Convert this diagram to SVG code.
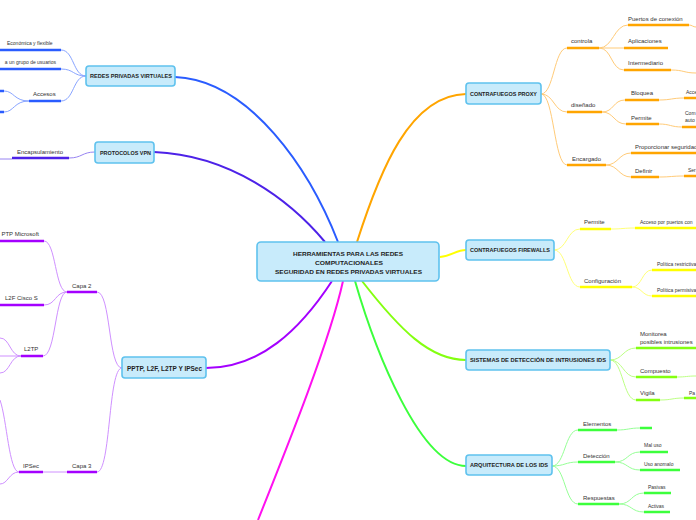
<svg xmlns="http://www.w3.org/2000/svg" width="696" height="520" viewBox="0 0 696 520">
<style>
.nd rect{fill:#c8ebfb;stroke:#5fc2ee;stroke-width:1.6}
.nt{font-family:"Liberation Sans",Arial,sans-serif;font-size:6.2px;font-weight:bold;fill:#1e1e1e;text-anchor:middle}
.st{font-family:"Liberation Sans",Arial,sans-serif;font-size:6px;fill:#333}
.sm{font-size:5px}
.main{fill:none;stroke-width:2}
.th{fill:none;stroke-width:1}
.ul{fill:none;stroke-width:2.4}
.b1{stroke:#2a5cff}.b2{stroke:#88a4ff}
.v1{stroke:#4d22e8}.v2{stroke:#9884f2}
.p1{stroke:#a400ff}.p2{stroke:#cf90ff}
.m1{stroke:#ff10f0}
.o1{stroke:#ffa500}.o2{stroke:#ffcb78}
.y1{stroke:#ffff00}.y2{stroke:#ffff78}
.l1{stroke:#84ff10}.l2{stroke:#bdff84}
.g1{stroke:#3cff3c}.g2{stroke:#96ff96}
</style>
<g id="connectors">
<path class="main b1" d="M175,77 C250,80 310,170 338,242"/>
<path class="main v1" d="M154,152 C230,155 290,200 325,242"/>
<path class="main o1" d="M357,242 C380,170 410,95 466,94"/>
<path class="main y1" d="M440,257 C452,256 456,250 466,250"/>
<path class="main l1" d="M362,281 C400,330 430,360 466,360"/>
<path class="main g1" d="M355,281 C375,350 420,466 466,466"/>
<path class="main p1" d="M332,281 C300,330 260,368 206,368"/>
<path class="main m1" d="M343,281 C330,340 290,440 258,520"/>
<!-- REDES -->
<path class="th b2" d="M86,76 C73,76 74,50 61,50 M86,76 C73,76 74,69 61,69 M86,76 C73,76 74,101 61,101 M29,101 C14,101 14,91 4,91 M29,101 C14,101 14,112 4,112"/>
<path class="ul b1" d="M0,50 H61 M0,69 H61 M29,101 H61 M0,91 H4 M0,112 H4"/>
<!-- VPN -->
<path class="th v2" d="M95,152 C82,152 82,158 69,158 M0,159 H12"/>
<path class="ul v1" d="M12,158 H69"/>
<!-- PPTP -->
<path class="th p2" d="M122,368 C108,368 111,292 97,292 M122,368 C108,368 111,472 97,472 M67,292 C55,292 56,241 44,241 M67,292 C55,292 56,305 44,305 M67,292 C55,292 56,356 43,356 M21,356 C10,356 10,338 0,338 M21,356 H0 M21,356 C10,356 10,373 0,373 M43,472 H67 M19,472 C9,472 7,420 0,400 M19,472 C9,472 8,484 0,484"/>
<path class="ul p1" d="M67,292 H97 M0,241 H44 M0,305 H44 M21,356 H43 M67,472 H97 M19,472 H43"/>
<!-- PROXY -->
<path class="th o2" d="M541,94 C554,94 554,48 567,48 M541,94 C554,94 554,112 567,112 M541,94 C554,94 554,165 567,165 M599,48 C613,48 614,25 628,25 M599,48 H624 M599,48 C612,48 611,70 624,70 M689,25 C692,25 693,27 696,27 M671,70 C684,70 684,73 696,73 M602,112 C614,112 613,100 625,100 M602,112 C614,112 614,124 626,124 M659,100 C671,100 672,98 684,98 M659,124 C670,124 671,127 682,127 M606,165 C618,165 619,153 631,153 M606,165 C618,165 619,177 631,177 M659,177 C671,177 672,176 684,176"/>
<path class="ul o1" d="M567,48 H599 M628,25 H689 M624,48 H668 M624,70 H671 M567,112 H602 M625,100 H659 M684,98 H696 M626,124 H659 M682,127 H696 M567,165 H606 M631,153 H696 M631,177 H659 M684,176 H696"/>
<!-- FIREWALLS -->
<path class="th y2" d="M554,250 C567,250 567,229 580,229 M554,250 C567,250 567,287 580,287 M611,229 C623,229 623,228 635,228 M632,287 C642,287 642,270 652,270 M632,287 C642,287 642,296 652,296"/>
<path class="ul y1" d="M580,229 H611 M635,228 H696 M580,287 H632 M652,270 H696 M652,296 H696"/>
<!-- SISTEMAS -->
<path class="th l2" d="M610,360 C623,360 623,348 636,348 M610,360 C623,360 623,377 636,377 M610,360 C623,360 623,400 636,400 M677,377 C686,377 687,376 696,376 M660,400 C672,400 672,398 684,398"/>
<path class="ul l1" d="M636,348 H696 M636,377 H677 M636,400 H660 M684,398 H696"/>
<!-- ARQUITECTURA -->
<path class="th g2" d="M552,466 C565,466 565,430 578,430 M552,466 C565,466 565,462 578,462 M552,466 C565,466 565,504 578,504 M617,430 C628,430 629,428 640,428 M615,462 C628,462 627,452 640,452 M615,462 C628,462 627,470 640,470 M619,504 C632,504 631,493 644,493 M619,504 C632,504 631,512 644,512"/>
<path class="ul g1" d="M578,430 H617 M640,428 H652 M578,462 H615 M640,452 H668 M640,470 H680 M578,504 H619 M644,493 H671 M644,512 H670"/>
</g>
<g id="n-center" class="nd">
<rect x="257" y="242" width="182" height="39" rx="4"/>
<text class="nt" x="348" y="255.5" textLength="110" lengthAdjust="spacingAndGlyphs">HERRAMIENTAS PARA LAS REDES</text>
<text class="nt" x="349" y="264.5" textLength="68" lengthAdjust="spacingAndGlyphs">COMPUTACIONALES</text>
<text class="nt" x="348.5" y="274" textLength="147" lengthAdjust="spacingAndGlyphs">SEGURIDAD EN REDES PRIVADAS VIRTUALES</text>
</g>
<g id="n-redes" class="nd">
<rect x="86" y="66" width="89" height="20" rx="3"/>
<text class="nt" x="131" y="78.2" textLength="82" lengthAdjust="spacingAndGlyphs">REDES PRIVADAS VIRTUALES</text>
</g>
<g id="n-vpn" class="nd">
<rect x="95" y="142" width="59" height="21" rx="3"/>
<text class="nt" x="125.5" y="154.5" textLength="51" lengthAdjust="spacingAndGlyphs">PROTOCOLOS VPN</text>
</g>
<g id="n-pptp" class="nd">
<rect x="122" y="357" width="84" height="21" rx="3"/>
<text class="nt" x="164.5" y="370.5" style="font-size:7px" textLength="75" lengthAdjust="spacingAndGlyphs">PPTP, L2F, L2TP Y IPSec</text>
</g>
<g id="n-proxy" class="nd">
<rect x="466" y="83" width="75" height="21" rx="3"/>
<text class="nt" x="503.5" y="95.7" textLength="67" lengthAdjust="spacingAndGlyphs">CONTRAFUEGOS PROXY</text>
</g>
<g id="n-firewalls" class="nd">
<rect x="466" y="240" width="88" height="20" rx="3"/>
<text class="nt" x="510" y="252.2" textLength="80" lengthAdjust="spacingAndGlyphs">CONTRAFUEGOS FIREWALLS</text>
</g>
<g id="n-ids" class="nd">
<rect x="466" y="350" width="144" height="20" rx="3"/>
<text class="nt" x="538" y="362.2" textLength="136" lengthAdjust="spacingAndGlyphs">SISTEMAS DE DETECCIÓN DE INTRUSIONES IDS</text>
</g>
<g id="n-arq" class="nd">
<rect x="466" y="455" width="86" height="20" rx="3"/>
<text class="nt" x="509" y="467.2" textLength="78" lengthAdjust="spacingAndGlyphs">ARQUITECTURA DE LOS IDS</text>
</g>
<g id="labels">
<text class="st sm" x="7" y="45">Económica y flexible</text>
<text class="st sm" x="56" y="64" text-anchor="end">a un grupo de usuarios</text>
<text class="st" x="33" y="95.5">Accesos</text>
<text class="st" x="17" y="154">Encapsulamiento</text>
<text class="st" x="72" y="287.5">Capa 2</text>
<text class="st" x="39" y="236" text-anchor="end">PTP Microsoft</text>
<text class="st" x="5" y="300">L2F Cisco S</text>
<text class="st" x="24" y="350.5">L2TP</text>
<text class="st" x="72" y="467.5">Capa 3</text>
<text class="st" x="23" y="467.5">IPSec</text>
<text class="st" x="571" y="43">controla</text>
<text class="st" x="628" y="20.5">Puertos de conexión</text>
<text class="st" x="628" y="42.5">Aplicaciones</text>
<text class="st" x="628" y="64.5">Intermediario</text>
<text class="st" x="571" y="107">diseñado</text>
<text class="st" x="631" y="95">Bloquea</text>
<text class="st sm" x="686" y="93.5">Acce</text>
<text class="st" x="631" y="119.5">Permite</text>
<text class="st sm" x="685" y="115">Com</text>
<text class="st sm" x="685" y="122">auto</text>
<text class="st" x="572" y="160.5">Encargado</text>
<text class="st" x="635" y="149">Proporcionar seguridad</text>
<text class="st" x="635" y="172.5">Definir</text>
<text class="st sm" x="688" y="172">Ser</text>
<text class="st" x="584" y="224">Permite</text>
<text class="st sm" x="640" y="223.5">Acceso por puertos con</text>
<text class="st" x="584" y="282.5">Configuración</text>
<text class="st sm" x="657" y="265.5">Política restrictiva</text>
<text class="st sm" x="657" y="291.5">Política permisiva</text>
<text class="st" x="640" y="335.5">Monitorea</text>
<text class="st" x="640" y="344">posibles intrusiones</text>
<text class="st" x="640" y="372.5">Compuesto</text>
<text class="st" x="640" y="395">Vigila</text>
<text class="st sm" x="689" y="395">Pa</text>
<text class="st" x="583" y="425.5">Elementos</text>
<text class="st" x="583" y="457.5">Detección</text>
<text class="st sm" x="644" y="447">Mal uso</text>
<text class="st sm" x="644" y="466">Uso anomalo</text>
<text class="st" x="583" y="499.5">Respuestas</text>
<text class="st sm" x="648" y="489">Pasivas</text>
<text class="st sm" x="648" y="508">Activas</text>
</g>
</svg>
